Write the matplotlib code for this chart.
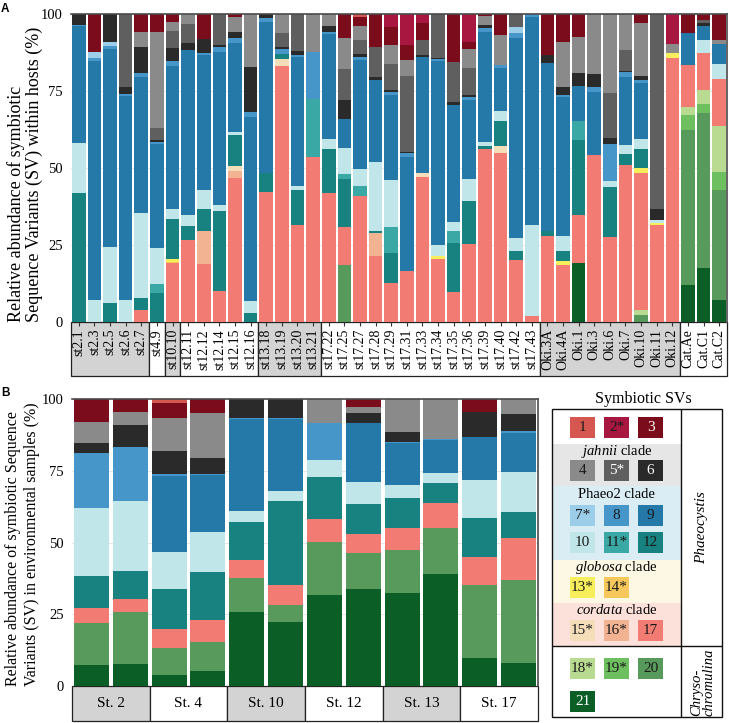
import matplotlib
matplotlib.use("Agg")
import matplotlib.pyplot as plt
from matplotlib.patches import Rectangle
import numpy as np

plt.rcParams['font.family'] = ['Liberation Serif', 'DejaVu Serif']
plt.rcParams['mathtext.fontset'] = 'custom'
plt.rcParams['mathtext.rm'] = 'Liberation Serif'
plt.rcParams['mathtext.it'] = 'Liberation Serif:italic'

W, H = 729, 723

# ---------------- colours of the 21 symbiotic SVs ----------------
sv_names = ["1", "2*", "3", "4", "5*", "6", "7*", "8", "9", "10", "11*", "12",
            "13*", "14*", "15*", "16*", "17", "18*", "19*", "20", "21"]
sv_colors = ["#D65650", "#A8173F", "#7B0C1C", "#8A8A8A", "#5F5F5F", "#2A2A2A",
             "#9CCDE9", "#4696CA", "#2479A9", "#C1E6EA", "#3AA8A4", "#178280",
             "#F7EE5C", "#F6C75A", "#F4DDB9", "#F2B393", "#F27C73",
             "#B9DB91", "#6DBF5F", "#589A5B", "#0C5E27"]

# ---------------- Panel A : hosts ----------------
samples_A = ["st2.1", "st2.3", "st2.5", "st2.6", "st2.7", "st4.9", "st10.10",
             "st12.11", "st12.12", "st12.14", "st12.15", "st12.16",
             "st13.18", "st13.19", "st13.20", "st13.21",
             "st17.22", "st17.25", "st17.27", "st17.28", "st17.29", "st17.31", "st17.33",
             "st17.34", "st17.35", "st17.36", "st17.39", "st17.40", "st17.42", "st17.43",
             "Oki.3A", "Oki.4A", "Oki.1", "Oki.3", "Oki.6", "Oki.7", "Oki.10", "Oki.11", "Oki.12",
             "Cat.Ae", "Cat.C1", "Cat.C2"]
group_sizes_A = [5, 1, 1, 5, 4, 14, 9, 3]
group_shaded_A = [True, False, True, False, True, False, True, False]

#          st2            st4  st10  st12              st13          st17                                                  Oki                                   Cat
A_sv1 = [0,0,0,0,0,       0,   0,    0,0,0,0,0,        0,0,0,0,      0,0,1,0,0,0,0,0,0,0,0,0,0,0,                           0,0,0,0,0,0,0,0,0,                     0,0,0]
A_sv2 = [0,0,0,0,0,       0,   0,    0,0,0,0,0,        0,0,0,0,      0,0,0,0,4.1,10.2,3,0,0,9.2,0,0,0,0,                    0,0,0,0,0,0,0,0,9.8,                   0,0,0]
A_sv3 = [0,12.4,0,0,5.7,  5.7, 2.7,  0,8.2,0,0.9,0,    0,0,0,0,      0,7.7,2.8,10.6,6,4.8,5.6,0,15.5,2.2,0.8,6.8,0,0,      13.3,9,7.6,0,0,0,3,0,0,                6.1,1.9,8.4]
A_sv4 = [0,0,0,0,4.9,     31.4,2.9,  3.2,0,0,4.8,17.1, 0,6.1,0,12.2, 3.9,10.1,4.6,0,6.1,5.2,0,0,0,6.1,2.7,9.8,0,0,           0,14.6,11.4,19.5,25.7,11.7,17,0,3,     0,0,1.3]
A_sv5 = [0,0,0,23.8,0,    3.8, 5.4,  6.3,0,10,0,0,     0,4.5,11.9,0, 0,10.1,4.6,9.9,8.4,24.5,4.7,14.4,13.1,8.7,0,0,4.3,0,    0,0,0,0,14.6,6.7,0,63.4,0,             0,1.1,0]
A_sv6 = [3.5,0,9,2.2,8.4, 0.8, 4.4,  2.2,4.6,0.6,2.2,14.6, 1.4,0.8,1.4,0, 1.8,6.3,1,0.9,0.6,0.5,0.8,0.3,0.8,0.8,1.1,0,0,0,      2.7,2.7,4.4,4.3,1.9,0.5,1.3,3.4,0,     0,0.9,0]
A_sv7 = [0,2,1.5,0,0,     0,   0,    0,0,0,0,0,        0,0,0,0,      0,0,0,0,0,0,0,0,0,0,0,0,1.8,0,                         0,0,0,0,0,0,0,0,0,                     0,0,0]
A_sv8 = [0.5,0.7,1,0.6,1.5, 0.6, 1.4, 0,0.5,1.6,1.6,1.6, 1.1,1.6,0.8,15.4, 0.8,0,1,0,1,1.1,0,0.7,0,0.9,1.1,1,1.8,0.9,          0,0.8,0,1.4,11.9,1.4,1.1,0,0,          0,0,0]
A_sv9 = [38,77.7,64.2,66.2,44.1, 33.7, 46.5, 53.5,43.8,49.8,28.7,60, 49,0,41.7,0, 34.1,9.2,35.4,26.5,27.6,37.3,37.4,59.5,38,25.7,36,13.8,64.9,67.7, 54.3,45.1,11.5,20.5,0,22.2,18.2,0,0, 10.4,4.5,6.5]
A_sv10 = [16,7.2,18.1,7.2,27.6, 11.6, 3.2, 3.6,6.3,2.1,1,3.8, 0,0,1.5,0, 3.2,8.5,5.4,22.5,15.5,0,0,3.6,3.2,7,1.3,3.2,4,29.3,  0,4.9,0,0,2.2,3,3.3,1.1,0,             0,4.4,5]
A_sv11 = [0,0,0,0,0,      3,   0,    0,0,0,0,0,        0,0,0,18.7,   0,1.6,3.2,0,8.3,0,0,0,3.8,0,0,0,0,0,                     0,0,6,0,0,0,0,0,0,                     0,0,0]
A_sv12 = [42,0,6.2,0,4,   9.4, 13,   4.5,7.2,25.7,10.3,2.9, 6.3,1.5,11.3,0, 14.4,15.5,0,0.7,9.8,0,0,0,15.7,14,0.8,8.1,3,0,   1.9,3.2,24.3,0,16.2,3.5,6.2,0,0,       0,0,0]
A_sv13 = [0,0,0,0,0,      0,   1,    0,0,0,0,0,        0,0,0,0,      0,0,0,0,0,0,0,1.1,0,0,0,0,0,0,                         0,1.1,0,0,0,0,1.6,0.7,1.4,             0,0,0]
A_sv14 = [0,0,0,0,0,      0,   0.5,  0,0,0,0,0,        0,0,0,0,      0,0,0,0,0,0,0,0,0,0,0,0,0,0,                           0,0,0,0,0,0,0,0,0,                     0,0,0]
A_sv15 = [0,0,0,0,0,      0,   0,    0,0,0,1.6,0,      0,2.4,0,0,    0,0,0,0,0,0,1.3,0,0,0,0,2.5,0,0,                       0,0,0,0,0,0,0,0,0,                     0,0,0]
A_sv16 = [0,0,0,0,0,      0,   0,    0,10.6,0,2.2,0,   0,0,0,0,      0,0,0,7.4,0,0,0,0,0,0,0,0,0,0,                         0,0,0,0,0,0,0,0,0,                     0,0,0]
A_sv17 = [0,0,0,0,3.8,    0,   19,   26.7,18.8,10.2,46.7,0, 42.2,83.1,31.4,53.7, 41.8,12.4,41,21.5,12.6,16.4,47.2,20.4,9.9,25.4,56.2,54.8,20.2,2.1, 27.8,18.6,15.7,54.3,27.5,51,44.3,31.4,85.8, 13.8,11.8,15.1]
A_sv18 = [0,0,0,0,0,      0,   0,    0,0,0,0,0,        0,0,0,0,      0,0,0,0,0,0,0,0,0,0,0,0,0,0,                           0,0,0,0,0,0,1.6,0,0,                   2.5,4.6,14.9]
A_sv19 = [0,0,0,0,0,      0,   0,    0,0,0,0,0,        0,0,0,0,      0,0,0,0,0,0,0,0,0,0,0,0,0,0,                           0,0,0,0,0,0,0,0,0,                     4.8,2.8,5.7]
A_sv20 = [0,0,0,0,0,      0,   0,    0,0,0,0,0,        0,0,0,0,      0,18.6,0,0,0,0,0,0,0,0,0,0,0,0,                        0,0,0,0,0,0,2.4,0,0,                   50.3,50.5,35.9]
A_sv21 = [0,0,0,0,0,      0,   0,    0,0,0,0,0,        0,0,0,0,      0,0,0,0,0,0,0,0,0,0,0,0,0,0,                           0,0,19.1,0,0,0,0,0,0,                  12.1,17.5,7]

A_series = [A_sv1, A_sv2, A_sv3, A_sv4, A_sv5, A_sv6, A_sv7, A_sv8, A_sv9, A_sv10, A_sv11,
            A_sv12, A_sv13, A_sv14, A_sv15, A_sv16, A_sv17, A_sv18, A_sv19, A_sv20, A_sv21]
for s in A_series:
    assert len(s) == len(samples_A), len(s)

# ---------------- Panel B : environmental samples ----------------
stations_B = ["St. 2", "St. 4", "St. 10", "St. 12", "St. 13", "St. 17"]
group_shaded_B = [True, False, True, False, True, False]
reps_per_station = 2
B_zero = [0, 0, 0, 0, 0, 0, 0, 0, 0, 0, 0, 0]
B_sv1 = [0, 0, 1.3, 0, 0, 0, 0, 0, 0, 0, 0, 0]
B_sv3 = [7.9, 4.4, 5.2, 4.8, 0, 0, 0, 2.7, 0, 0, 4.4, 0]
B_sv4 = [7.3, 4.7, 11.6, 15.6, 0, 0, 8.3, 2.1, 11.4, 14.1, 0, 5]
B_sv6 = [3.5, 7.7, 8.1, 5.8, 6.7, 6.7, 0, 3.5, 3.5, 0, 8.7, 6.1]
B_sv8 = [19.4, 18.7, 0.5, 0.3, 0.4, 0.4, 13, 0.2, 0.3, 0.2, 0.2, 0.4]
B_sv9 = [0, 0, 26.7, 20, 31.9, 25.1, 0, 20.5, 14.8, 11.6, 14.8, 13.6]
B_sv10 = [23.5, 24.4, 12.9, 13.7, 3.7, 3.5, 6, 7.6, 4.6, 3.3, 13.4, 13.6]
B_sv12 = [11.3, 9.9, 14, 16.8, 13.4, 29.6, 14.5, 10.4, 10.2, 6.9, 13.6, 9]
B_sv17 = [5.3, 4.4, 6.6, 7.6, 6.2, 7, 7.9, 6.7, 7.8, 9, 9.6, 14.2]
B_sv20 = [14.5, 18.3, 9.3, 10.1, 11.8, 5.8, 18.6, 12.5, 14.9, 15.9, 25.6, 28.5]
B_sv21 = [7.3, 7.5, 3.8, 5.3, 25.9, 22.4, 31.7, 34, 32.5, 39, 9.6, 7.9]
B_series = [B_sv1, B_zero, B_sv3, B_sv4, B_zero, B_sv6, B_zero, B_sv8, B_sv9, B_sv10, B_zero,
            B_sv12, B_zero, B_zero, B_zero, B_zero, B_sv17, B_zero, B_zero, B_sv20, B_sv21]

# ---------------- figure ----------------
fig = plt.figure(figsize=(W / 100, H / 100), dpi=100)


def px_rect(x0, y0, x1, y1):
    return [x0 / W, 1 - y1 / H, (x1 - x0) / W, (y1 - y0) / H]


ov = fig.add_axes([0, 0, 1, 1])
ov.set_xlim(0, W)
ov.set_ylim(H, 0)
ov.axis('off')
ov.set_zorder(0)


def stacked(ax, series, width):
    data = np.array(series, dtype=float)  # (21, n)
    data = data / data.sum(axis=0, keepdims=True) * 100
    n = data.shape[1]
    x = np.arange(n)
    bottom = np.zeros(n)
    for k in range(20, -1, -1):
        ax.bar(x, data[k], bottom=bottom, width=width, color=sv_colors[k],
               linewidth=0, zorder=2)
        bottom += data[k]
    ax.set_xlim(-0.5, n - 0.5)
    ax.set_ylim(0, 100)
    ax.set_yticks([0, 25, 50, 75, 100])
    ax.set_yticklabels(["0", "25", "50", "75", "100"])
    ax.tick_params(axis='y', length=0, pad=6, labelsize=10.5)
    ax.yaxis.grid(True, color='#e6e6e6', lw=0.7, zorder=0)
    ax.set_axisbelow(True)
    for s in ['left', 'bottom']:
        ax.spines[s].set_visible(False)
    for s in ['top', 'right']:
        ax.spines[s].set_color('#4a4a4a')
        ax.spines[s].set_linewidth(1.2)
    ax.patch.set_alpha(0)


def label_boxes(ax, sizes, shaded, n):
    ax.set_xlim(-0.5, n - 0.5)
    ax.set_ylim(0, 1)
    ax.axis('off')
    start = 0
    for sz, sh in zip(sizes, shaded):
        ax.add_patch(Rectangle((start - 0.5, 0), sz, 1, facecolor='#d3d3d3' if sh else 'white',
                               edgecolor='#222222', lw=0.9, clip_on=False))
        start += sz


# Panel A
labA = fig.add_axes(px_rect(71, 322, 727, 376))
labA.set_zorder(1)
label_boxes(labA, group_sizes_A, group_shaded_A, len(samples_A))

axA = fig.add_axes(px_rect(71, 14, 727, 322))
axA.set_zorder(2)
stacked(axA, A_series, 0.87)
axA.set_xticks(np.arange(len(samples_A)))
axA.set_xticklabels(samples_A, rotation=90, fontsize=10)
axA.tick_params(axis='x', length=3, width=0.8, pad=2, color='#333333')

# Panel B
labB = fig.add_axes(px_rect(72, 686, 538, 721))
labB.set_zorder(1)
nB = len(stations_B) * reps_per_station
label_boxes(labB, [reps_per_station] * len(stations_B), group_shaded_B, nB)
for i, st in enumerate(stations_B):
    labB.text(i * reps_per_station + (reps_per_station - 1) / 2, 0.5, st,
              ha='center', va='center', fontsize=11)

axB = fig.add_axes(px_rect(72, 399, 538, 686))
axB.set_zorder(2)
stacked(axB, B_series, 0.9)
axB.set_xticks([])

# axis titles
ov.text(25.5, 322, "Relative abundance of symbiotic\nSequence Variants (SV) within hosts (%)",
        rotation=90, ha='center', va='bottom', multialignment='left',
        fontsize=13, linespacing=1.05)
ov.text(23, 686, "Relative abundance of symbiotic Sequence\nVariants (SV) in environmental samples (%)",
        rotation=90, ha='center', va='bottom', multialignment='left',
        fontsize=11.5, linespacing=1.25)
ov.text(1, 3, "A", fontsize=8.5, fontweight='bold', family='Liberation Sans', ha='left', va='top')
ov.text(1, 387, "B", fontsize=8.5, fontweight='bold', family='Liberation Sans', ha='left', va='top')

# ---------------- legend ----------------
lg = fig.add_axes(px_rect(552, 409, 722, 717))
lg.set_xlim(552, 722)
lg.set_ylim(717, 409)
lg.axis('off')
lg.set_zorder(3)

box_l, box_r, div_x, box_t, box_b, div_y = 552, 722, 681, 409, 717, 646
bands = [(444, 486, '#e6e6e6'), (486, 560, '#dbedf4'), (560, 603, '#fdf8e3'), (603, 646, '#fbe1da')]
for y0, y1, c in bands:
    lg.add_patch(Rectangle((box_l, y0), div_x - box_l, y1 - y0, facecolor=c, edgecolor='none'))
lg.add_patch(Rectangle((box_l, box_t), box_r - box_l, box_b - box_t, facecolor='none',
                       edgecolor='#111111', lw=1.0, clip_on=False))
lg.plot([div_x, div_x], [box_t, box_b], color='#111111', lw=1.0)
lg.plot([box_l, box_r], [div_y, div_y], color='#111111', lw=1.0)

lg.text(616.5, 452, r"$\it{jahnii}$ clade", ha='center', va='center', fontsize=10.5)
lg.text(616.5, 495, "Phaeo2 clade", ha='center', va='center', fontsize=10.5)
lg.text(616.5, 568, r"$\it{globosa}$ clade", ha='center', va='center', fontsize=10.5)
lg.text(616.5, 610, r"$\it{cordata}$ clade", ha='center', va='center', fontsize=10.5)
lg.text(643, 399, "Symbiotic SVs", ha='center', va='center', fontsize=11.5, clip_on=False)
lg.text(702, 528, "Phaeocystis", rotation=90, ha='center', va='center', fontsize=11, style='italic')
lg.text(703, 682, "Chryso-\nchromulina", rotation=90, ha='center', va='center', fontsize=10.5,
        style='italic', linespacing=1.0, multialignment='left')

col_x = [570, 604, 638]
row_y = [417, 460, 505, 532, 577, 620, 658, 691]
layout = [(0, 0), (0, 1), (0, 2), (1, 0), (1, 1), (1, 2), (2, 0), (2, 1), (2, 2), (3, 0), (3, 1), (3, 2),
          (4, 0), (4, 1), (5, 0), (5, 1), (5, 2), (6, 0), (6, 1), (6, 2), (7, 0)]
white_text = {2, 4, 5, 20}
for k, (r, c) in enumerate(layout):
    x0, y0 = col_x[c], row_y[r]
    lg.add_patch(Rectangle((x0, y0), 25, 21, facecolor=sv_colors[k], edgecolor='none'))
    lg.text(x0 + 12.5, y0 + 11, sv_names[k], ha='center', va='center', fontsize=11,
            color='white' if k in white_text else '#1a1a1a')

fig.savefig("out.png", dpi=100)
